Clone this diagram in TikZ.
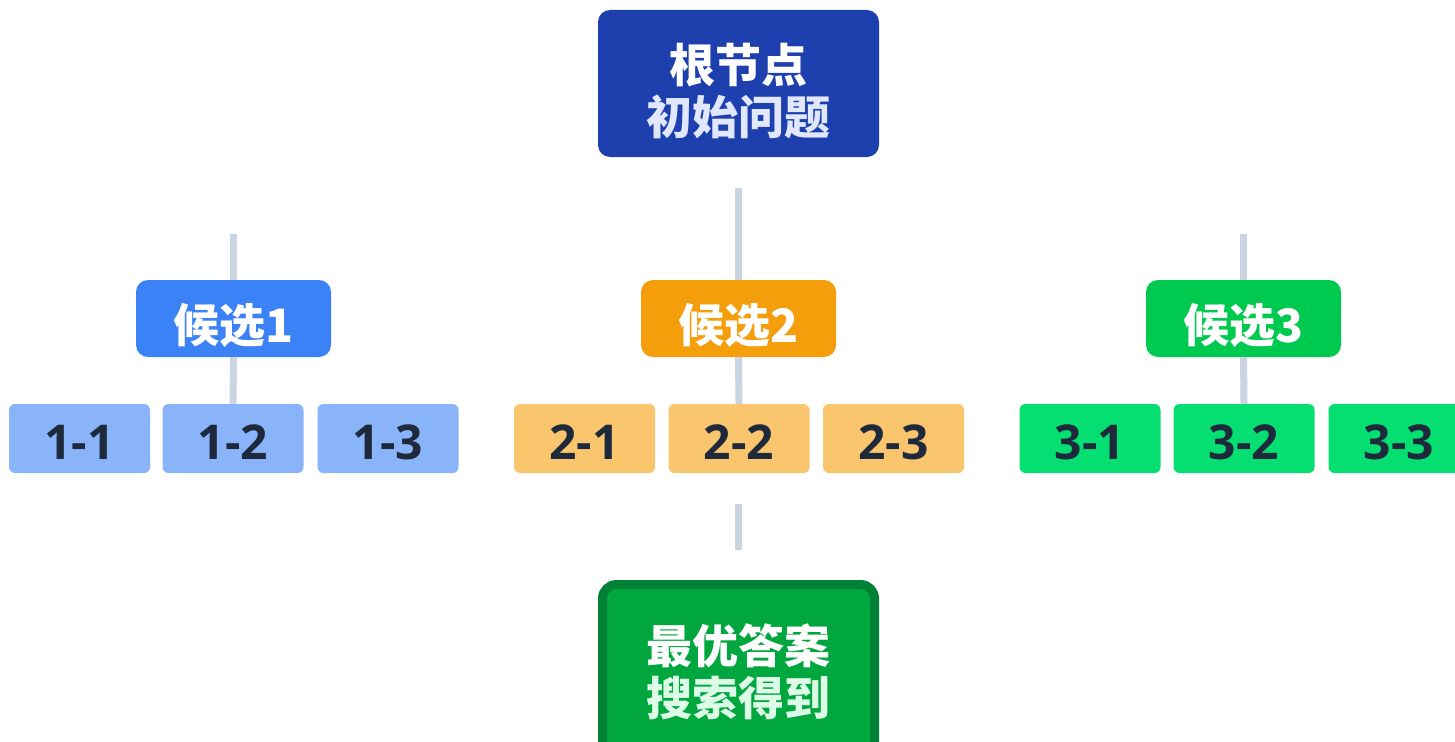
\documentclass[tikz,border=0pt]{standalone}
\usepackage{fontspec}
\newfontfamily\cjk{Noto Sans CJK SC}
\newfontfamily\digits{Open Sans}
\definecolor{rootblue}{HTML}{1E40AF}
\definecolor{rootsub}{HTML}{E0E7FF}
\definecolor{cblue}{HTML}{3B82F6}
\definecolor{corange}{HTML}{F59E0B}
\definecolor{cgreen}{HTML}{00C950}
\definecolor{kblue}{HTML}{89B4FA}
\definecolor{korange}{HTML}{F9C56D}
\definecolor{kgreen}{HTML}{05DF72}
\definecolor{kdark}{HTML}{1E293B}
\definecolor{stub}{HTML}{CBD5E1}
\definecolor{finfill}{HTML}{00A63E}
\definecolor{finborder}{HTML}{008236}
\definecolor{finsub}{HTML}{DCFCE7}
\tikzset{
  bigbox/.style={rectangle, rounded corners=12pt, minimum width=281pt, minimum height=147pt, inner sep=0pt},
  bigtext/.style={anchor=base, inner sep=0pt, font=\cjk\bfseries\fontsize{46}{51}\selectfont},
  candbox/.style={rectangle, rounded corners=12pt, minimum width=195pt, minimum height=77pt, inner sep=0pt,
    text height=48pt, text depth=0pt,
    text=white, font=\cjk\bfseries\fontsize{46}{51}\selectfont},
  kidbox/.style={rectangle, rounded corners=6pt, minimum width=141pt, minimum height=69pt, inner sep=0pt,
    text height=41pt, text depth=0pt,
    text=kdark, font=\digits\bfseries\fontsize{48}{50}\selectfont},
  stubline/.style={draw=stub, line width=7pt},
}
\begin{document}
\begin{tikzpicture}[x=1pt,y=-1pt]
\useasboundingbox (0,0) rectangle (1455,741);
\clip (0,0) rectangle (1455,741);
\fill[white] (0,0) rectangle (1455,741);
% stub free ends
\coordinate (s0) at (738.5,188);
\coordinate (s1) at (233.5,234);
\coordinate (s3) at (1243.5,234);
\coordinate (b0) at (738.5,504);
\coordinate (b1) at (738.5,550);
% candidates
\node[candbox, fill=cblue] (c1) at (233.5,318.5) {候选1};
\node[candbox, fill=corange] (c2) at (738.5,318.5) {候选2};
\node[candbox, fill=cgreen] (c3) at (1243.5,318.5) {候选3};
% children
\node[kidbox, fill=kblue] (k11) at (79.5,438.5) {1-1};
\node[kidbox, fill=kblue] (k12) at (233,438.5) {1-2};
\node[kidbox, fill=kblue] (k13) at (388,438.5) {1-3};
\node[kidbox, fill=korange] (k21) at (584.5,438.5) {2-1};
\node[kidbox, fill=korange] (k22) at (739,438.5) {2-2};
\node[kidbox, fill=korange] (k23) at (893.5,438.5) {2-3};
\node[kidbox, fill=kgreen] (k31) at (1090,438.5) {3-1};
\node[kidbox, fill=kgreen] (k32) at (1244,438.5) {3-2};
\node[kidbox, fill=kgreen] (k33) at (1399,438.5) {3-3};
% connectors
\draw[stubline] (s0) -- (c2.north);
\draw[stubline] (s1) -- (c1.north);
\draw[stubline] (s3) -- (c3.north);
\draw[stubline] (c1.south) -- (k12.north);
\draw[stubline] (c2.south) -- (k22.north);
\draw[stubline] (c3.south) -- (k32.north);
\draw[stubline] (b0) -- (b1);
% root
\node[bigbox, fill=rootblue] (root) at (738.5,83.5) {};
\node[bigtext, text=white] (rootA) at (738.5,83) {根节点};
\node[bigtext, text=rootsub] (rootB) at (738.5,134) {初始问题};
% final
\node[bigbox, minimum width=272pt, minimum height=180pt, fill=finfill, draw=finborder, line width=9pt, rounded corners=14pt] (final) at (738.5,674.5) {};
\node[bigtext, text=white] (finA) at (738.5,663.5) {最优答案};
\node[bigtext, text=finsub] (finB) at (738.5,715) {搜索得到};
\end{tikzpicture}
\end{document}
